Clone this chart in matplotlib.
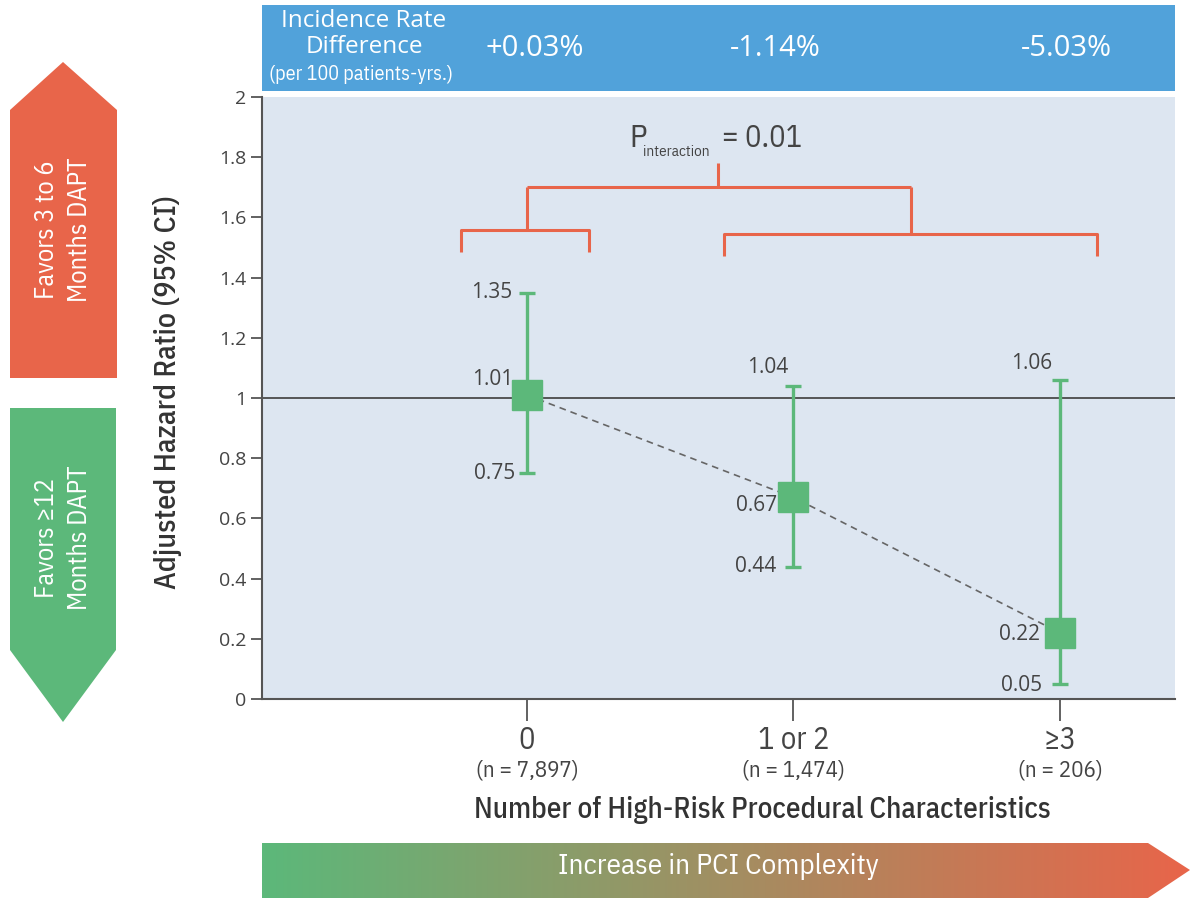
import matplotlib
matplotlib.use('Agg')
import matplotlib.pyplot as plt
import numpy as np
from matplotlib.patches import Polygon, Rectangle
from matplotlib.colors import LinearSegmentedColormap

# ---- data ----
categories = ['0', '1 or 2', '≥3']
n_labels = ['(n = 7,897)', '(n = 1,474)', '(n = 206)']
hr = [1.01, 0.67, 0.22]
ci_low = [0.75, 0.44, 0.05]
ci_high = [1.35, 1.04, 1.06]
ird_labels = ['+0.03%', '-1.14%', '-5.03%']
yticks = [0, 0.2, 0.4, 0.6, 0.8, 1, 1.2, 1.4, 1.6, 1.8, 2]
ytick_labels = ['0', '0.2', '0.4', '0.6', '0.8', '1', '1.2', '1.4', '1.6', '1.8', '2']
p_interaction = '0.01'

# ---- style ----
GREEN = '#5cb87a'
ORANGE = '#e8654a'
BLUE = '#51a2da'
BG = '#dde6f1'
TXT = '#444444'
NARROW = ['IBM Plex Sans Condensed', 'DejaVu Sans']
REG = ['Open Sans', 'DejaVu Sans']
plt.rcParams['font.family'] = REG

W, H = 1194, 900
fig = plt.figure(figsize=(W / 100, H / 100), dpi=100)
fig.patch.set_facecolor('white')

# decoration layer in pixel coordinates
deco = fig.add_axes([0, 0, 1, 1])
deco.set_xlim(0, W)
deco.set_ylim(H, 0)
deco.axis('off')

# main axes
L, R, T, B = 262, 1175, 97, 699
ax = fig.add_axes([L / W, (H - B) / H, (R - L) / W, (B - T) / H])
ax.set_facecolor(BG)
x = np.arange(len(categories))
hr_a = np.array(hr)
lo_a = np.array(ci_low)
hi_a = np.array(ci_high)

ax.set_xlim(-0.994, 2.432)
ax.set_ylim(0, 2)

ax.axhline(1, color='#4a4a4a', lw=1.3, zorder=2)
ax.plot(x, hr_a, color='#666666', lw=1.2, ls=(0, (4, 3)), zorder=3)
ax.errorbar(x, hr_a, yerr=[hr_a - lo_a, hi_a - hr_a], fmt='none', ecolor=GREEN,
            elinewidth=2.4, capsize=6, capthick=2.4, zorder=4)
ax.plot(x, hr_a, ls='none', marker='s', ms=21, color=GREEN, zorder=5)

# value labels (offsets in pixels)
hi_off = [(-15, 0), (-5, 18), (-8, 16)]
mid_off = [(-14, 15), (-16, -8), (-20, -2)]
lo_off = [(-12, 0), (-17, 0), (-18, -2)]
for i in range(len(categories)):
    for val, off in ((ci_high[i], hi_off[i]), (hr[i], mid_off[i]), (ci_low[i], lo_off[i])):
        ax.annotate(f'{val:.2f}', (x[i], val), xytext=off, textcoords='offset pixels',
                    ha='right', va='center', fontsize=15, color=TXT, zorder=6)

# interaction brackets
yb_l, yb_r, yb_top, yb_stem = 1.558, 1.545, 1.701, 1.781
drop = 0.072
lx0, lx1 = x[0] - 0.248, x[0] + 0.233
rx0, rx1 = x[1] - 0.259, x[2] + 0.139
rmid = 1.441
bk = dict(color=ORANGE, lw=2.2, solid_capstyle='butt', zorder=3)
ax.plot([lx0, lx0, lx1, lx1], [yb_l - drop, yb_l, yb_l, yb_l - drop], **bk)
ax.plot([rx0, rx0, rx1, rx1], [yb_r - drop, yb_r, yb_r, yb_r - drop], **bk)
ax.plot([x[0], x[0]], [yb_l, yb_top], **bk)
ax.plot([rmid, rmid], [yb_r, yb_top], **bk)
ax.plot([x[0], rmid], [yb_top, yb_top], **bk)
stem_x = 0.717
ax.plot([stem_x, stem_x], [yb_top, yb_stem], **bk)
ptxt = dict(textcoords='offset pixels', va='baseline', ha='left', color=TXT, family=NARROW)
ax.annotate('P', (stem_x, yb_stem), xytext=(-89, 16), fontsize=23, **ptxt)
ax.annotate('interaction', (stem_x, yb_stem), xytext=(-75, 7), fontsize=11, **ptxt)
ax.annotate('= ' + p_interaction, (stem_x, yb_stem), xytext=(4, 16), fontsize=22, **ptxt)

# axes styling
for s in ('top', 'right'):
    ax.spines[s].set_visible(False)
for s in ('left', 'bottom'):
    ax.spines[s].set_color('#555555')
    ax.spines[s].set_linewidth(1.5)
ax.set_yticks(yticks)
ax.set_yticklabels(ytick_labels)
ax.tick_params(axis='y', direction='out', length=8, width=1.3, color='#555555',
               labelsize=14, labelcolor=TXT, pad=3)
ax.set_xticks(x)
ax.set_xticklabels([])
ax.tick_params(axis='x', direction='out', length=16, width=1.3, color='#555555')

for i in range(len(categories)):
    ax.annotate(categories[i], (x[i], 0), xycoords=('data', 'axes fraction'),
                xytext=(0, -41), textcoords='offset pixels', ha='center', va='center',
                fontsize=22, color=TXT, family=NARROW)
    ax.annotate(n_labels[i], (x[i], 0), xycoords=('data', 'axes fraction'),
                xytext=(0, -71), textcoords='offset pixels', ha='center', va='center',
                fontsize=16.5, color=TXT, family=NARROW)

ax.set_xlabel('Number of High-Risk Procedural Characteristics', fontsize=21,
              color='#333333', family=NARROW, fontweight=500)
ax.xaxis.set_label_coords((762 - L) / (R - L), -(810 - B) / (B - T))
ax.xaxis.label.set_va('center')
ax.set_ylabel('Adjusted Hazard Ratio (95% CI)', fontsize=21.5, color='#333333',
              family=NARROW, fontweight=500)
ax.yaxis.set_label_coords(-(L - 168) / (R - L), (B - 392) / (B - T))
ax.yaxis.label.set_va('center')

# top banner
deco.add_patch(Rectangle((262, 5), 913, 86, color=BLUE, lw=0))
deco.text(364, 21, 'Incidence Rate', ha='center', va='center', fontsize=17.5, color='white', family=REG)
deco.text(364, 47, 'Difference', ha='center', va='center', fontsize=17.5, color='white', family=REG)
deco.text(361, 74, '(per 100 patients-yrs.)', ha='center', va='center', fontsize=14.5, color='white', family=NARROW)
for xp, lab in zip([535, 775, 1066], ird_labels):
    deco.text(xp, 48, lab, ha='center', va='center', fontsize=21, color='white', family=REG)

# left arrows
deco.add_patch(Polygon([(10, 110), (63, 62), (117, 110), (117, 378), (10, 378)],
                       closed=True, color=ORANGE, lw=0))
deco.add_patch(Polygon([(10, 408), (116, 408), (116, 650), (63, 722), (10, 650)],
                       closed=True, color=GREEN, lw=0))
deco.text(63, 230, 'Favors 3 to 6\nMonths DAPT', rotation=90, ha='center', va='center',
          fontsize=19, color='white', family=NARROW, linespacing=1.4)
deco.text(63, 538, 'Favors \u226512\nMonths DAPT', rotation=90, ha='center', va='center',
          fontsize=19, color='white', family=NARROW, linespacing=1.4)

# bottom gradient arrow
arrow = Polygon([(262, 843), (1148, 843), (1190, 870), (1148, 898), (262, 898)],
                closed=True, facecolor='none', lw=0)
deco.add_patch(arrow)
cmap = LinearSegmentedColormap.from_list('g2o', [GREEN, ORANGE])
grad = np.linspace(0, 1, 512).reshape(1, -1)
im = deco.imshow(grad, cmap=cmap, extent=(262, 1190, 898, 843), aspect='auto',
                 interpolation='bilinear', zorder=1)
im.set_clip_path(arrow)
deco.set_xlim(0, W)
deco.set_ylim(H, 0)
deco.text(718, 867, 'Increase in PCI Complexity', ha='center', va='center',
          fontsize=21, color='white', family=NARROW, zorder=2)

fig.savefig('out.png', dpi=100, facecolor='white')
